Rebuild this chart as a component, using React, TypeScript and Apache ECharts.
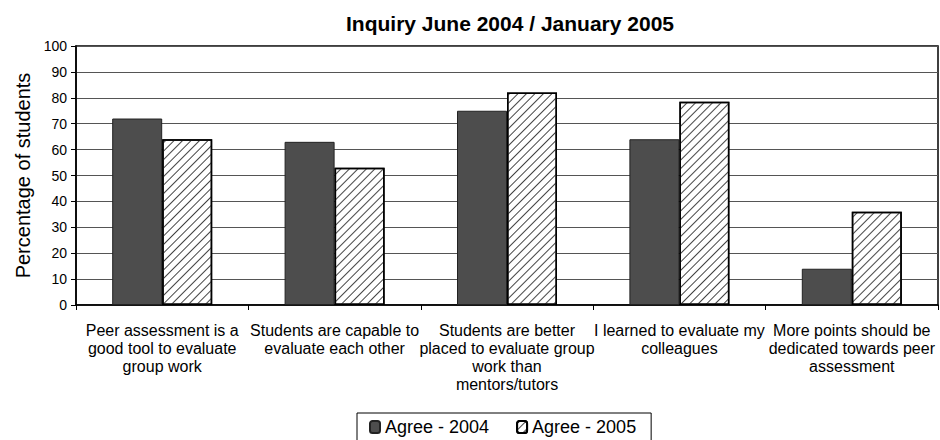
import React, { useEffect, useRef } from "react";
import * as echarts from "echarts";

const categories = [
  "Peer assessment is a\ngood tool to evaluate\ngroup work",
  "Students are capable to\nevaluate each other",
  "Students are better\nplaced to evaluate group\nwork than\nmentors/tutors",
  "I learned to evaluate my\ncolleagues",
  "More points should be\ndedicated towards peer\nassessment",
];
const agree2004 = [72, 63, 75, 64, 14];
const agree2005 = [64, 53, 82, 78.5, 36];
const seriesNames = ["Agree - 2004", "Agree - 2005"];
const titleText = "Inquiry June 2004 / January 2005";
const yAxisName = "Percentage of students";

const FONT = "'Liberation Sans', Arial, sans-serif";

export default function App() {
  const ref = useRef<HTMLDivElement>(null);
  useEffect(() => {
    document.body.style.margin = "0";
    const chart = echarts.init(ref.current!, undefined, { renderer: "svg" });
    chart.setOption({
      animation: false,
      backgroundColor: "#fff",
      textStyle: { fontFamily: FONT, color: "#000" },
      title: {
        text: titleText,
        left: 505,
        textAlign: "center",
        top: 8,
        textStyle: { fontFamily: FONT, fontSize: 21, fontWeight: "bold", color: "#000" },
      },
      legend: {
        data: seriesNames,
        left: 357,
        top: 413,
        padding: [5, 15, 10, 12],
        itemGap: 27,
        itemWidth: 10,
        itemHeight: 12,
        borderColor: "#000",
        borderWidth: 1,
        textStyle: { fontFamily: FONT, fontSize: 18, color: "#000" },
      },
      grid: {
        left: 76,
        right: 2,
        top: 46,
        bottom: 135,
        show: true,
        borderColor: "#000",
        borderWidth: 1.5,
      },
      xAxis: {
        type: "category",
        data: categories,
        axisLine: { lineStyle: { color: "#000", width: 1.5 } },
        axisTick: { show: true, length: 5, lineStyle: { color: "#000", width: 1 } },
        axisLabel: {
          interval: 0,
          margin: 16,
          fontFamily: FONT,
          fontSize: 16,
          lineHeight: 18,
          color: "#000",
          align: "center",
        },
      },
      yAxis: {
        type: "value",
        min: 0,
        max: 100,
        interval: 10,
        name: yAxisName,
        nameLocation: "middle",
        nameGap: 43,
        nameTextStyle: { fontFamily: FONT, fontSize: 20, color: "#000" },
        axisLine: { show: true, lineStyle: { color: "#000", width: 1.5 } },
        axisTick: { show: true, length: 5, lineStyle: { color: "#000" } },
        axisLabel: { fontFamily: FONT, fontSize: 14, color: "#000", margin: 9 },
        splitLine: { show: true, lineStyle: { color: "#555", width: 1 } },
      },
      series: [
        {
          name: seriesNames[0],
          type: "bar",
          data: agree2004,
          barWidth: 50,
          barGap: "0%",
          itemStyle: { color: "#4d4d4d", borderColor: "#222", borderWidth: 1 },
        },
        {
          name: seriesNames[1],
          type: "bar",
          data: agree2005,
          barWidth: 50,
          barGap: "0%",
          itemStyle: {
            color: "#fff",
            borderColor: "#000",
            borderWidth: 1.5,
            decal: {
              symbol: "rect",
              symbolSize: 1,
              dashArrayX: [1, 0],
              dashArrayY: [1, 5],
              rotation: -Math.PI / 4,
              color: "#444",
              backgroundColor: "#fff",
            },
          },
        },
      ],
    });
    return () => chart.dispose();
  }, []);
  return <div ref={ref} style={{ width: 940, height: 440 }} />;
}
